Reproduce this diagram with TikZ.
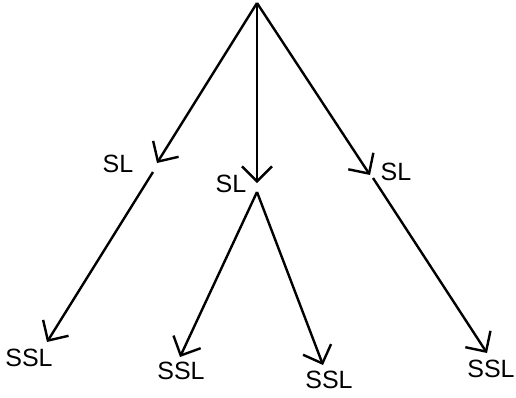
\documentclass[tikz,border=0pt]{standalone}
\usepackage{fontspec}
\setmainfont{Liberation Sans}
\usetikzlibrary{positioning,arrows.meta}

\begin{document}
\begin{tikzpicture}[x=1pt,y=-1pt,line width=2.4pt,
    lbl/.style={font=\fontsize{25}{30}\selectfont,inner sep=0pt},
    arr/.style={-{Straight Barb[length=15pt,width=30pt]}}]
    \useasboundingbox (0,0) rectangle (516,397);
    % ends of the arrows
    \coordinate (r)  at (257,3);
    \coordinate (t1) at (157,163);
    \coordinate (t2) at (257,183);
    \coordinate (t3) at (370,175);
    \coordinate (s1) at (153,172);
    \coordinate (s2) at (257,192);
    \coordinate (s3) at (373,178);
    \coordinate (u1) at (47,342);
    \coordinate (u2) at (180,357);
    \coordinate (u3) at (323,365);
    \coordinate (u4) at (487,353);
    % labels
    \node(sl1) [lbl] at (118,164) {SL};
    \node(sl2) [lbl] at (231,184) {SL};
    \node(sl3) [lbl] at (396,172) {SL};
    \node(ssl1) [lbl] at (29,358) {SSL};
    \node(ssl2) [lbl] at (181,371) {SSL};
    \node(ssl3) [lbl] at (329,380) {SSL};
    \node(ssl4) [lbl] at (491,369) {SSL};
    \draw[arr] (r) -- (t1);
    \draw[arr] (r) -- (t2);
    \draw[arr] (r) -- (t3);
    \draw[arr] (s1) -- (u1);
    \draw[arr] (s2) -- (u2);
    \draw[arr] (s2) -- (u3);
    \draw[arr] (s3) -- (u4);
\end{tikzpicture}
\end{document}
